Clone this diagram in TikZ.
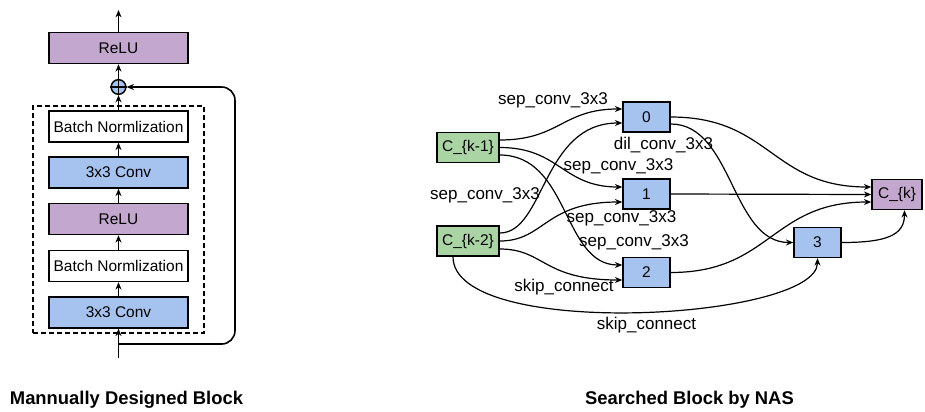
\documentclass[tikz,border=0pt]{standalone}
\usepackage{fontspec}
\setmainfont{Liberation Sans}
\usetikzlibrary{arrows.meta}
\usetikzlibrary{calc}
\definecolor{convblue}{RGB}{165,195,238}
\definecolor{relupurple}{RGB}{195,167,206}
\definecolor{cellgreen}{RGB}{170,212,164}

\begin{document}
\begin{tikzpicture}[x=0.75pt,y=0.75pt,yscale=-1,xscale=1,
  >={Stealth[length=5.5pt,width=4.5pt]},
  layer/.style={draw, line width=1.1pt, minimum width=104.25pt, minimum height=23.25pt, inner sep=0pt, font=\fontsize{11.6}{13.9}\selectfont},
  cell/.style={draw, line width=1.1pt, fill=convblue, minimum width=35.25pt, minimum height=22.5pt, inner sep=0pt, font=\fontsize{11.6}{13.9}\selectfont},
  lbl/.style={inner sep=0pt, font=\fontsize{12.75}{15}\selectfont},
  title/.style={inner sep=0pt, font=\fontsize{13.8}{16}\selectfont\bfseries},
  flow/.style={->, line width=1.2pt},
  edge/.style={->, line width=0.9pt},
]
\useasboundingbox (0,0) rectangle (925,411);

% Manually designed block
\node[layer, fill=relupurple] (relu) at (118.5,48) {ReLU};
\node[circle, draw, fill=convblue, line width=1.1pt, minimum size=11pt, inner sep=0pt] (plus) at (118.5,87) {};
\draw[line width=1.1pt] (plus.north) -- (plus.south) (plus.west) -- (plus.east);
\node[layer, fill=white] (bnA) at (118.5,126.5) {Batch Normlization};
\node[layer, fill=convblue] (convA) at (118.5,172.5) {3x3 Conv};
\node[layer, fill=relupurple] (reluB) at (118.5,219) {ReLU};
\node[layer, fill=white] (bnB) at (118.5,266) {Batch Normlization};
\node[layer, fill=convblue] (convB) at (118.5,312.5) {3x3 Conv};
\node[draw, dash pattern=on 3.5pt off 2.5pt, line width=1.1pt, minimum width=128.25pt, minimum height=170.25pt, inner sep=0pt] (res) at (118.5,219.5) {};
\coordinate (out) at (118.5,10);
\coordinate (in) at (118.5,358);
\coordinate (split) at (118.5,344);

\draw[flow] (in) -- (convB);
\draw[flow] (convB) -- (bnB);
\draw[flow] (bnB) -- (reluB);
\draw[flow] (reluB) -- (convA);
\draw[flow] (convA) -- (bnA);
\draw[flow] (bnA) -- (plus);
\draw[flow] (plus) -- (relu);
\draw[flow] (relu) -- (out);
\draw[flow, rounded corners=10pt] (split) -- ++(116.5,0) |- (plus);

\node[title] (titleA) at (126.5,399.5) {Mannually Designed Block};

% Searched block
\node[cell, fill=cellgreen, minimum width=46.5pt] (ckA) at (468,147.5) {C\_\{k-1\}};
\node[cell, fill=cellgreen, minimum width=46.5pt] (ckB) at (468,241) {C\_\{k-2\}};
\node[cell] (n0) at (646.5,117) {0};
\node[cell] (n1) at (646.5,194) {1};
\node[cell] (n2) at (646.5,272.5) {2};
\node[cell] (n3) at (817.5,242.5) {3};
\node[cell, fill=relupurple, minimum width=37.5pt] (ck) at (897,194.5) {C\_\{k\}};

\draw[edge] ($(ckA.east)+(0,-7.5)$) .. controls +(60,0) and +(-60,0) .. ($(n0.west)+(0,-8)$);
\draw[edge] ($(ckB.east)+(0,-8)$) .. controls +(45,0) and +(-80,0) .. ($(n0.west)+(0,6)$);
\draw[edge] (ckA.east) .. controls +(60,0) and +(-60,0) .. ($(n1.west)+(0,-7)$);
\draw[edge] (ckB.east) .. controls +(45,0) and +(-78,0) .. ($(n1.west)+(0,8)$);
\draw[edge] ($(ckA.east)+(0,7.5)$) .. controls +(70,0) and +(-60,0) .. ($(n2.west)+(0,-7.5)$);
\draw[edge] ($(ckB.east)+(0,8)$) .. controls +(45,0) and +(-80,0) .. ($(n2.west)+(0,7.5)$);
\draw[edge] ($(ckB.south)+(-15,0)$) .. controls +(0,84) and +(0,62) .. (n3.south);
\draw[edge] (n0.east) .. controls +(100,0) and +(-100,0) .. ($(ck.west)+(0,-7.5)$);
\draw[edge] ($(n0.east)+(0,7)$) .. controls +(62,0) and +(-62,0) .. (n3.west);
\draw[edge] (n1.east) -- (ck.west);
\draw[edge] (n2.east) .. controls +(100,0) and +(-100,0) .. ($(ck.west)+(0,7.5)$);
\draw[edge] (n3.east) .. controls +(45,0) and +(0,25) .. ($(ck.south)+(7.5,0)$);

\node[lbl] (opA) at (553,100) {sep\_conv\_3x3};
\node[lbl] (opB) at (663.5,145) {dil\_conv\_3x3};
\node[lbl] (opC) at (618.5,166.5) {sep\_conv\_3x3};
\node[lbl] (opD) at (485,195) {sep\_conv\_3x3};
\node[lbl] (opE) at (621.5,218) {sep\_conv\_3x3};
\node[lbl] (opF) at (634,242.5) {sep\_conv\_3x3};
\node[lbl] (opG) at (564,287.5) {skip\_connect};
\node[lbl] (opH) at (646.5,325) {skip\_connect};

\node[title] (titleB) at (689.5,399.5) {Searched Block by NAS};
\end{tikzpicture}
\end{document}
